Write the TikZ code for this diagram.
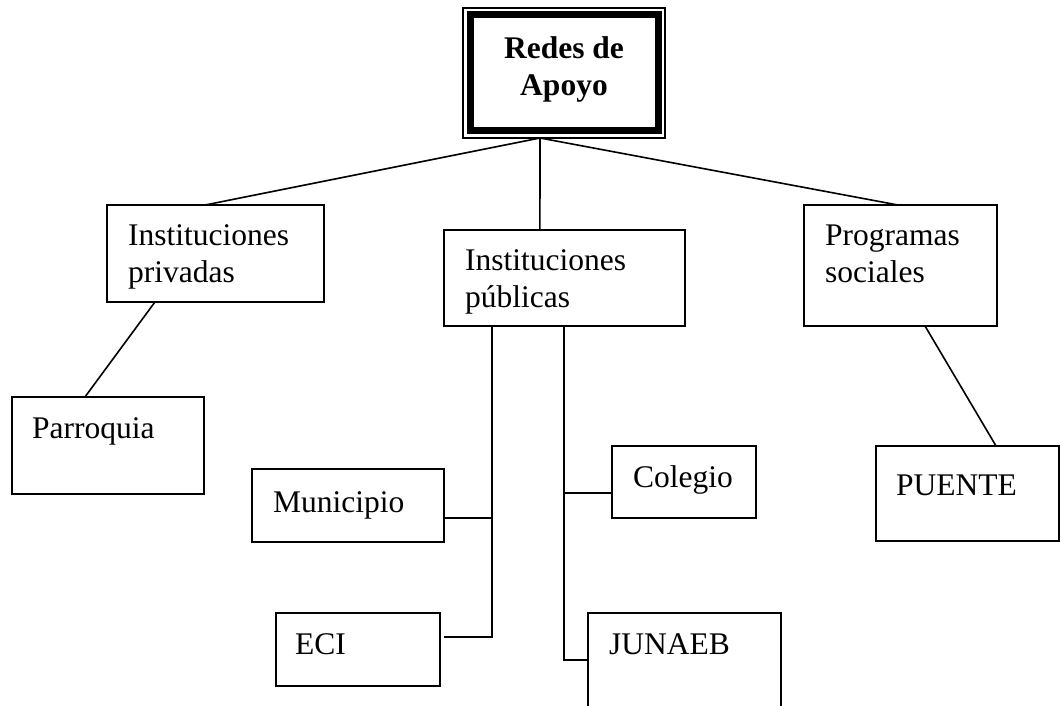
\documentclass[tikz,border=0pt]{standalone}
\usepackage{fontspec}
\setmainfont{Liberation Serif}
\usetikzlibrary{calc}
\begin{document}
\begin{tikzpicture}[x=1pt,y=-1pt,
  box/.style={draw, line width=1.6pt, anchor=north west, inner sep=0pt, outer sep=0pt},
  txt/.style={anchor=base west, inner sep=0pt, align=left, font=\fontsize{31.5}{37}\selectfont},
  link/.style={line width=1.6pt}]
\useasboundingbox (0,0) rectangle (1061,706);
\clip (0,0) rectangle (1061,706);

% title box (thin outer line + thick inner line)
\node[draw, line width=1.4pt, anchor=north west, minimum width=202pt, minimum height=130pt, inner sep=0pt, outer sep=0pt] (redes) at (463,8) {};
\draw[line width=7pt] ($(redes.north west)+(7,7)$) rectangle ($(redes.south east)+(-7,-7)$);
% base anchor of a two-line node = baseline of its last line
\node[txt, anchor=base, align=center, font=\fontsize{31.5}{37}\selectfont\bfseries] (redestxt) at (564,96) {Redes de\\Apoyo};

% boxes
\node[box, minimum width=217pt, minimum height=97pt] (priv) at (107,205) {};
\node[box, minimum width=192pt, minimum height=97pt] (parr) at (12,397) {};
\node[box, minimum width=241pt, minimum height=96pt] (publ) at (444,230) {};
\node[box, minimum width=192pt, minimum height=73pt] (muni) at (252,469) {};
\node[box, minimum width=164pt, minimum height=73pt] (eci) at (276,613) {};
\node[box, minimum width=144pt, minimum height=72pt] (coleg) at (612,446) {};
\node[box, minimum width=193pt, minimum height=130pt] (junaeb) at (588,613) {};
\node[box, minimum width=193pt, minimum height=121pt] (prog) at (804,205) {};
\node[box, minimum width=183pt, minimum height=95pt] (puente) at (876,446) {};

% texts
\node[txt] (privtxt) at (128,282) {Instituciones\\privadas};
\node[txt] (parrtxt) at (32,438) {Parroquia};
\node[txt] (publtxt) at (465,307) {Instituciones\\públicas};
\node[txt] (munitxt) at (273,512) {Municipio};
\node[txt] (ecitxt) at (295,654) {ECI};
\node[txt] (colegtxt) at (633,487) {Colegio};
\node[txt] (junaebtxt) at (609,654) {JUNAEB};
\node[txt] (progtxt) at (825,282) {Programas\\sociales};
\node[txt] (puentetxt) at (896,495) {PUENTE};

% connectors
\coordinate (hub) at ($(redes.south west)+(77,0)$);
\draw[link] (hub) -- ($(priv.north west)!0.452!(priv.north east)$);
\draw[link] (hub) -- ($(publ.north west)!0.398!(publ.north east)$);
\draw[link] (hub) -- ($(prog.north west)!0.487!(prog.north east)$);
\draw[link] ($(priv.south west)!0.221!(priv.south east)$) -- ($(parr.north west)!0.38!(parr.north east)$);
\draw[link] ($(prog.south west)!0.627!(prog.south east)$) -- ($(puente.north west)!0.656!(puente.north east)$);

\coordinate (v1) at ($(publ.south west)!0.199!(publ.south east)$);
\coordinate (v2) at ($(publ.south west)!0.498!(publ.south east)$);
\coordinate (munip) at ($(muni.north east)!0.67!(muni.south east)$);
\coordinate (ecip) at ($(eci.north east)!0.33!(eci.south east)+(4,0)$);
\coordinate (colegp) at ($(coleg.north west)!0.65!(coleg.south west)$);
\coordinate (junaebp) at ($(junaeb.north west)+(0,47)$);

\draw[link] (v1) -- (v1 |- ecip) -- (ecip);
\draw[link] (munip) -- (v1 |- munip);
\draw[link] (v2) -- (v2 |- junaebp) -- (junaebp);
\draw[link] (colegp) -- (v2 |- colegp);
\end{tikzpicture}
\end{document}
